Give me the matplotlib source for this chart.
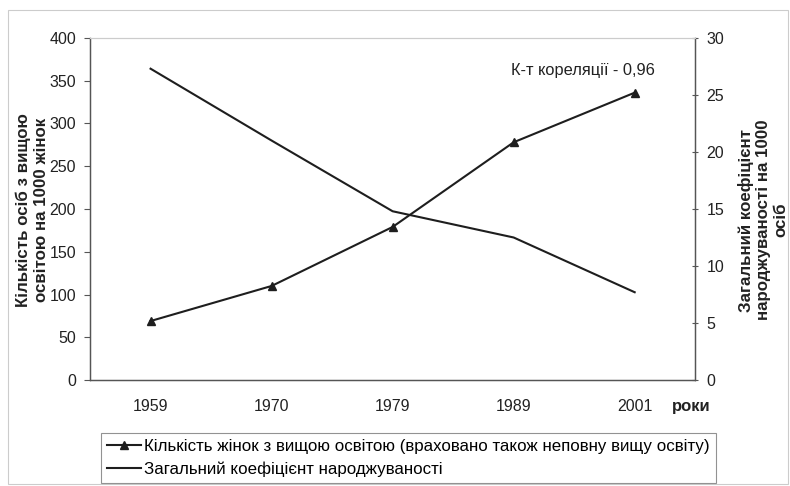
import matplotlib
matplotlib.use("Agg")
import matplotlib.pyplot as plt
from matplotlib.ticker import MultipleLocator

plt.rcParams["font.family"] = ["Liberation Sans", "DejaVu Sans"]

years = ["1959", "1970", "1979", "1989", "2001"]
women_higher_edu = [69, 110, 179, 278, 336]
birth_rate = [27.3, 21.0, 14.8, 12.5, 7.7]

INK = "#1e1e1e"
TXT = "#222222"

fig = plt.figure(figsize=(7.9, 4.86), dpi=100)
ax = fig.add_axes([0.114, 0.218, 0.766, 0.704])
ax2 = ax.twinx()

x = list(range(len(years)))
l1, = ax.plot(x, women_higher_edu, color=INK, lw=1.5, marker="^", ms=5.5,
              label="Кількість жінок з вищою освітою (враховано також неповну вищу освіту)")
l2, = ax2.plot(x, birth_rate, color=INK, lw=1.5,
               label="Загальний коефіцієнт народжуваності")

ax.set_xlim(-0.5, len(years) - 0.5)
ax.set_ylim(0, 400)
ax2.set_ylim(0, 30)
ax.yaxis.set_major_locator(MultipleLocator(50))
ax2.yaxis.set_major_locator(MultipleLocator(5))
ax.set_xticks(x)
ax.set_xticklabels(years)

for a in (ax, ax2):
    a.spines["top"].set_color("#cccccc")
    a.spines["top"].set_linewidth(0.8)
    for s in ("left", "right", "bottom"):
        a.spines[s].set_color("#555555")
        a.spines[s].set_linewidth(0.9)
ax.tick_params(axis="x", length=0, labelsize=11.5, colors=TXT, pad=14)
ax.tick_params(axis="y", length=4, labelsize=11.5, colors=TXT, pad=6, color="#555555")
ax2.tick_params(axis="y", length=4, direction="inout", labelsize=11.5, colors=TXT,
                pad=6, color="#555555")

# axis titles placed on the figure so the two-line blocks sit where they do in the original
fig.text(32 / 790, 1 - 210 / 486, "Кількість осіб з вищою\nосвітою на 1000 жінок",
         rotation=90, ha="center", va="center", multialignment="center",
         fontsize=12.2, fontweight="bold", color=TXT, linespacing=1.25)
fig.text(763 / 790, 1 - 220 / 486, "Загальний коефіцієнт\nнароджуваності на 1000\nосіб",
         rotation=90, ha="center", va="center", multialignment="center",
         fontsize=12.2, fontweight="bold", color=TXT, linespacing=1.2)

ax.text(0.815, 0.905, "К-т кореляції - 0,96", transform=ax.transAxes,
        ha="center", va="center", fontsize=11.8, color=TXT)
fig.text(691 / 790, 1 - 406 / 486, "роки", ha="center", va="center", fontsize=12,
         fontweight="bold", color=TXT)

leg = fig.legend(handles=[l1, l2], loc="lower left", bbox_to_anchor=(0.128, 0.006),
                 frameon=True, fancybox=False, edgecolor="#777777", fontsize=12.2,
                 handlelength=2.0, handletextpad=0.2, borderpad=0.35, labelspacing=0.45,
                 borderaxespad=0.0)
leg.get_frame().set_linewidth(0.8)

fig.patches.append(plt.Rectangle((0.010, 0.004), 0.988, 0.975, transform=fig.transFigure,
                                 fill=False, edgecolor="#cccccc", lw=0.8))

fig.savefig("out.png", dpi=100)
